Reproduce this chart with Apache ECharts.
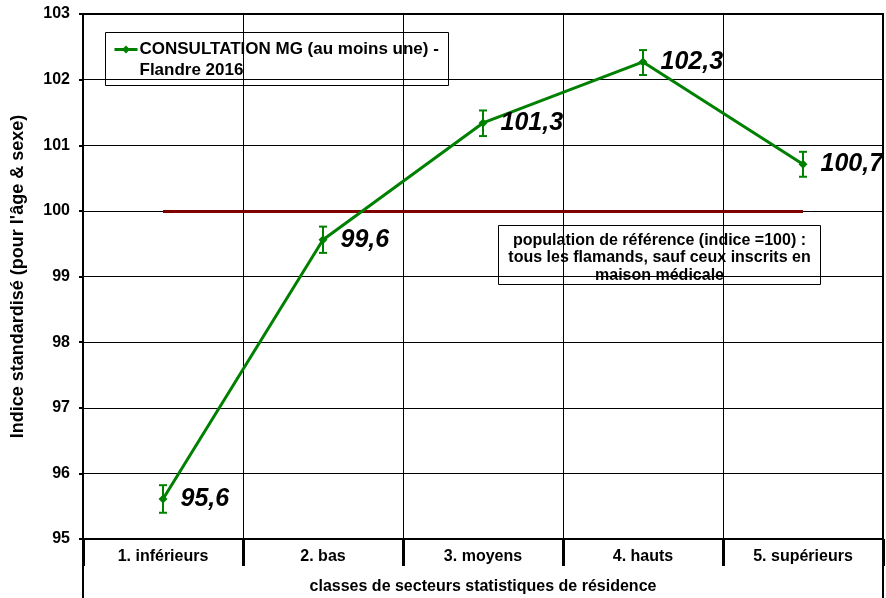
<!DOCTYPE html>
<html><head><meta charset="utf-8">
<script src="https://cdn.jsdelivr.net/npm/echarts@6/dist/echarts.min.js"></script>
<style>html,body{margin:0;padding:0;background:#fff}#c{width:886px;height:598px}</style>
</head><body><div id="c"></div>
<script>
const categories = ['1. inférieurs', '2. bas', '3. moyens', '4. hauts', '5. supérieurs'];
const values = [95.61, 99.56, 101.34, 102.27, 100.71];
const labels = ['95,6', '99,6', '101,3', '102,3', '100,7'];
const errLow = [95.40, 99.36, 101.14, 102.07, 100.52];
const errHigh = [95.82, 99.76, 101.53, 102.45, 100.90];
const refValue = 100;
const yTicks = [95, 96, 97, 98, 99, 100, 101, 102, 103];

const FONT = 'Liberation Sans, Arial, sans-serif';
const chart = echarts.init(document.getElementById('c'));
chart.setOption({
  animation: false,
  textStyle: { fontFamily: FONT },
  grid: { left: 83, right: 3, top: 14, bottom: 59, containLabel: false, outerBoundsMode: 'none', show: true, borderColor: '#000', borderWidth: 2, backgroundColor: 'transparent' },
  xAxis: {
    type: 'category', data: categories, boundaryGap: true,
    axisLine: { lineStyle: { color: '#000', width: 2 } },
    axisTick: { show: true, length: 27, lineStyle: { color: '#000', width: 3 } },
    axisLabel: { interval: 0, color: '#000', fontWeight: 'bold', fontSize: 16, fontFamily: FONT, margin: 10 },
    splitLine: { show: true, interval: 0, lineStyle: { color: '#000', width: 1 } },
    name: 'classes de secteurs statistiques de résidence', nameLocation: 'middle', nameGap: 40,
    nameTextStyle: { color: '#000', fontWeight: 'bold', fontSize: 16, fontFamily: FONT }
  },
  yAxis: {
    type: 'value', min: yTicks[0], max: yTicks[yTicks.length - 1], interval: 1,
    axisLine: { show: true, lineStyle: { color: '#000', width: 2 } },
    axisTick: { show: true, length: 4, lineStyle: { color: '#000', width: 2 } },
    axisLabel: { color: '#000', fontWeight: 'bold', fontSize: 16, fontFamily: FONT, margin: 13 },
    splitLine: { show: true, lineStyle: { color: '#000', width: 1 } },
    name: "Indice standardisé (pour l'âge & sexe)", nameLocation: 'middle', nameGap: 56, nameRotate: 90,
    nameTextStyle: { color: '#000', fontWeight: 'bold', fontSize: 18, fontFamily: FONT }
  },
  series: [
    {
      type: 'line', data: values, z: 5,
      lineStyle: { color: '#008000', width: 3 },
      itemStyle: { color: '#008000' },
      symbol: 'diamond', symbolSize: 9,
      label: {
        show: true, position: 'right', distance: 13,
        formatter: p => labels[p.dataIndex],
        color: '#000', fontSize: 25, fontWeight: 'bold', fontStyle: 'italic', fontFamily: FONT
      },
      markLine: {
        silent: true, symbol: ['none', 'none'], label: { show: false },
        lineStyle: { color: '#800000', width: 3, type: 'solid' },
        data: [[{ coord: [0, refValue] }, { coord: [categories.length - 1, refValue] }]]
      }
    },
    {
      type: 'custom', z: 6,
      data: categories.map((c, i) => [i, errLow[i], errHigh[i]]),
      renderItem: function (params, api) {
        const lo = api.coord([api.value(0), api.value(1)]);
        const hi = api.coord([api.value(0), api.value(2)]);
        const w = 4;
        const st = { stroke: '#008000', lineWidth: 2 };
        return { type: 'group', children: [
          { type: 'line', shape: { x1: lo[0], y1: lo[1], x2: hi[0], y2: hi[1] }, style: st },
          { type: 'line', shape: { x1: lo[0] - w, y1: lo[1], x2: lo[0] + w, y2: lo[1] }, style: st },
          { type: 'line', shape: { x1: hi[0] - w, y1: hi[1], x2: hi[0] + w, y2: hi[1] }, style: st }
        ]};
      }
    }
  ],
  graphic: [
    { type: 'line', shape: { x1: 83, y1: 539, x2: 83, y2: 598 }, style: { stroke: '#000', lineWidth: 2 } },
    { type: 'line', shape: { x1: 883, y1: 539, x2: 883, y2: 598 }, style: { stroke: '#000', lineWidth: 2 } },
    { type: 'group', left: 105, top: 32, z: 100, children: [
      { type: 'rect', shape: { x: 0, y: 0, width: 343, height: 53 }, style: { fill: '#fff', stroke: '#000', lineWidth: 1 } },
      { type: 'line', shape: { x1: 9, y1: 17, x2: 32, y2: 17 }, style: { stroke: '#008000', lineWidth: 3 } },
      { type: 'polygon', shape: { points: [[20.5, 13], [24.5, 17], [20.5, 21], [16.5, 17]] }, style: { fill: '#008000' } },
      { type: 'text', x: 34, y: 6, style: { text: 'CONSULTATION MG (au moins une) -\nFlandre 2016', fill: '#000', font: 'bold 17px ' + FONT, lineHeight: 21 } }
    ]},
    { type: 'group', left: 498, top: 225, z: 100, children: [
      { type: 'rect', shape: { x: 0, y: 0, width: 322, height: 59 }, style: { fill: '#fff', stroke: '#000', lineWidth: 1 } },
      { type: 'text', x: 161, y: 6, style: { text: 'population de référence (indice =100) :\ntous les flamands, sauf ceux inscrits en\nmaison médicale', fill: '#000', font: 'bold 16px ' + FONT, align: 'center', lineHeight: 17.5 } }
    ]}
  ]
});
</script></body></html>
